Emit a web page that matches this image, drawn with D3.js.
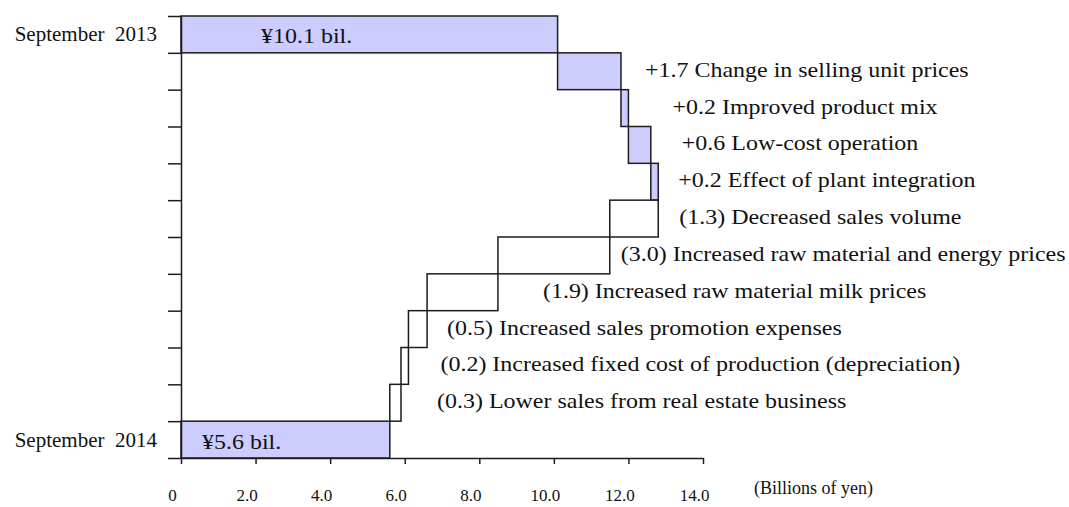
<!DOCTYPE html>
<html lang="en">
<head>
  <meta charset="UTF-8">
  <title>Operating income change</title>
  <style>
    html, body {
      margin: 0;
      background: #fff;
    }
    svg text {
      font-family: "Liberation Serif", "Times New Roman", serif;
      fill: #111;
      white-space: pre;
    }
  </style>
</head>
<body>
  <script src="https://d3js.org/d3.v7.min.js"></script>
  <script>
    // data (billions of yen)
    const periods = ["September  2013", "September  2014"];
    const totals = [10.1, 5.6];
    const factors = [
      "Change in selling unit prices",
      "Improved product mix",
      "Low-cost operation",
      "Effect of plant integration",
      "Decreased sales volume",
      "Increased raw material and energy prices",
      "Increased raw material milk prices",
      "Increased sales promotion expenses",
      "Increased fixed cost of production (depreciation)",
      "Lower sales from real estate business"
    ];
    const changes = [1.7, 0.2, 0.6, 0.2, -1.3, -3.0, -1.9, -0.5, -0.2, -0.3];
    const xTicks = [0, 2, 4, 6, 8, 10, 12, 14];
    const xTickLabels = ["0", "2.0", "4.0", "6.0", "8.0", "10.0", "12.0", "14.0"];
    const unitLabel = "(Billions of yen)";

    // layout: gap (px) between each change bar and its label, and label pad inside total bars
    const labelGap = [24, 44, 31, 20, 21, 11, 45, 20, 32, 36];
    const totalPad = [80, 21];
    const stretch = 1.09;

    const svg = d3.select("body")
      .append("svg")
      .attr("width", 1069)
      .attr("height", 507);

    // build waterfall rows
    const rows = [{ name: periods[0], x0: 0, x1: totals[0], kind: "total", t: 0 }];
    let run = totals[0];
    changes.forEach((c, i) => {
      rows.push({ name: factors[i], x0: run, x1: run + c, kind: c > 0 ? "up" : "down", change: c, i: i });
      run += c;
    });
    rows.push({ name: periods[1], x0: 0, x1: totals[1], kind: "total", t: 1 });

    const x = d3.scaleLinear().domain([0, 14]).range([181, 703]);
    const y = d3.scaleBand().domain(d3.range(rows.length)).range([16, 458]);
    const yEdge = d3.scaleLinear().domain([0, rows.length]).range([16, 458]);

    const ink = "#1c1c1c";

    // bars
    svg.append("g")
      .selectAll("rect")
      .data(rows)
      .join("rect")
      .attr("x", d => x(Math.min(d.x0, d.x1)))
      .attr("y", (d, i) => y(i))
      .attr("width", d => Math.abs(x(d.x1) - x(d.x0)))
      .attr("height", y.bandwidth())
      .attr("fill", d => d.kind === "down" ? "#fff" : "#ccccff")
      .attr("stroke", ink)
      .attr("stroke-width", 1.5);

    // left axis: ticks on row boundaries
    const yAxis = svg.append("g")
      .attr("transform", `translate(${x(0)},0)`)
      .call(d3.axisLeft(yEdge).tickValues(d3.range(rows.length + 1)).tickSize(13).tickSizeOuter(0).tickFormat(""));
    yAxis.select(".domain").attr("stroke", ink).attr("stroke-width", 1.5);
    yAxis.selectAll(".tick line").attr("stroke", ink).attr("stroke-width", 1.5);

    // bottom axis
    const xAxis = svg.append("g")
      .attr("transform", `translate(0,${yEdge(rows.length)})`)
      .call(d3.axisBottom(x).tickValues(xTicks).tickSize(6).tickSizeOuter(0)
        .tickFormat((d, i) => xTickLabels[i]));
    xAxis.select(".domain").attr("stroke", ink).attr("stroke-width", 1.5);
    xAxis.selectAll(".tick line").attr("stroke", ink).attr("stroke-width", 1.5);
    xAxis.selectAll(".tick text")
      .attr("y", 43)
      .attr("dy", 0)
      .attr("dx", -9)
      .attr("fill", ink)
      .style("font-family", "Liberation Serif")
      .style("font-size", "17px");

    svg.append("text")
      .attr("x", 754)
      .attr("y", 494)
      .style("font-size", "18px")
      .text(unitLabel);

    // period names on the left
    svg.append("g")
      .selectAll("text")
      .data(rows.filter(d => d.kind === "total"))
      .join("text")
      .attr("x", 157)
      .attr("y", d => y(rows.indexOf(d)) + y.bandwidth() / 2 + 7)
      .attr("text-anchor", "end")
      .style("font-size", "21px")
      .text(d => d.name);

    // amounts inside total bars
    svg.append("g")
      .selectAll("text")
      .data(rows.filter(d => d.kind === "total"))
      .join("text")
      .attr("transform", d => `translate(${x(0) + totalPad[d.t]},${y(rows.indexOf(d)) + y.bandwidth() / 2 + 9}) scale(${stretch},1)`)
      .style("font-size", "22px")
      .text(d => `\u00a5${d.x1.toFixed(1)} bil.`);

    // change labels
    const fmt = c => c > 0 ? `+${c.toFixed(1)}` : `(${(-c).toFixed(1)})`;
    svg.append("g")
      .selectAll("text")
      .data(rows.filter(d => d.kind !== "total"))
      .join("text")
      .attr("transform", d => {
        const right = x(Math.max(d.x0, d.x1)) + labelGap[d.i];
        const cy = y(d.i + 1) + y.bandwidth() / 2 + 5.5;
        return `translate(${right},${cy}) scale(${stretch},1)`;
      })
      .style("font-size", "22px")
      .text(d => `${fmt(d.change)} ${d.name}`);
  </script>
</body>
</html>
